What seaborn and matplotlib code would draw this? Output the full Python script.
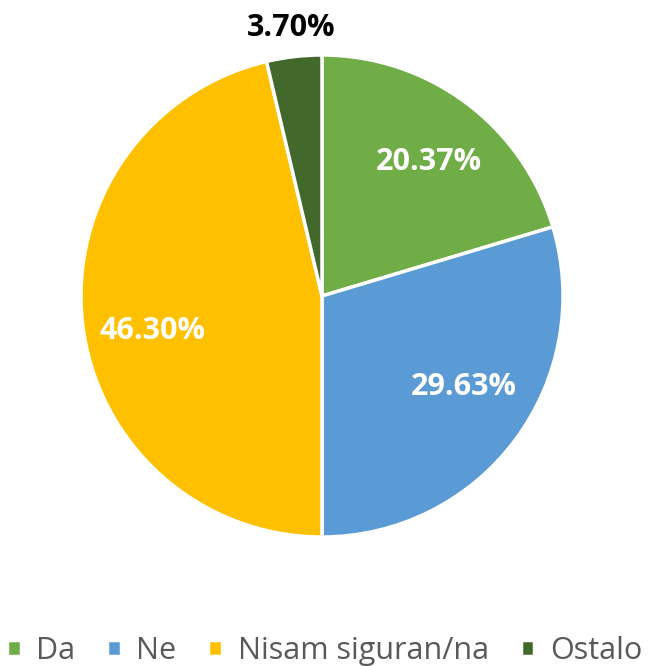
import matplotlib
matplotlib.use("Agg")
import matplotlib.pyplot as plt
import seaborn as sns
import numpy as np

categories = ["Da", "Ne", "Nisam siguran/na", "Ostalo"]
values = [20.37, 29.63, 46.30, 3.70]
colors = ["#70AD47", "#5B9BD5", "#FFC000", "#43682B"]

sns.set_style("white")
plt.rcParams["font.family"] = ["Open Sans", "DejaVu Sans"]

fig = plt.figure(figsize=(6.49, 6.66), dpi=100)
# square axes of 482x482 px centred on the pie
ax = fig.add_axes([81 / 649, (666 - 296 - 241) / 666, 482 / 649, 482 / 666])

wedges, texts = ax.pie(values, colors=colors, startangle=90, counterclock=False,
                       radius=1, wedgeprops=dict(edgecolor="white", linewidth=2.5))

# label placement (angle nudge in degrees, radius), like Excel's best fit
nudge = [-2, 4, 5, 0]
dist = [0.71, 0.70, 0.72, 1.12]
for w, v, dn, r in zip(wedges, values, nudge, dist):
    ang = np.deg2rad((w.theta1 + w.theta2) / 2 + dn)
    col = "black" if r > 1 else "white"
    ax.text(r * np.cos(ang), r * np.sin(ang), f"{v:.2f}%", ha="center", va="center",
            fontsize=22, fontweight="bold", color=col)

ax.set_xlim(-1, 1)
ax.set_ylim(-1, 1)
ax.set_aspect("equal")
ax.axis("off")

fig.legend(wedges, categories, loc="center", bbox_to_anchor=(0.5, 1 - 651 / 666),
           ncol=4, frameon=False, fontsize=22, handlelength=0.45, handleheight=0.45,
           handletextpad=0.5, columnspacing=1.05, labelcolor="#595959",
           borderaxespad=0, borderpad=0)

fig.savefig("out.png", dpi=100)
